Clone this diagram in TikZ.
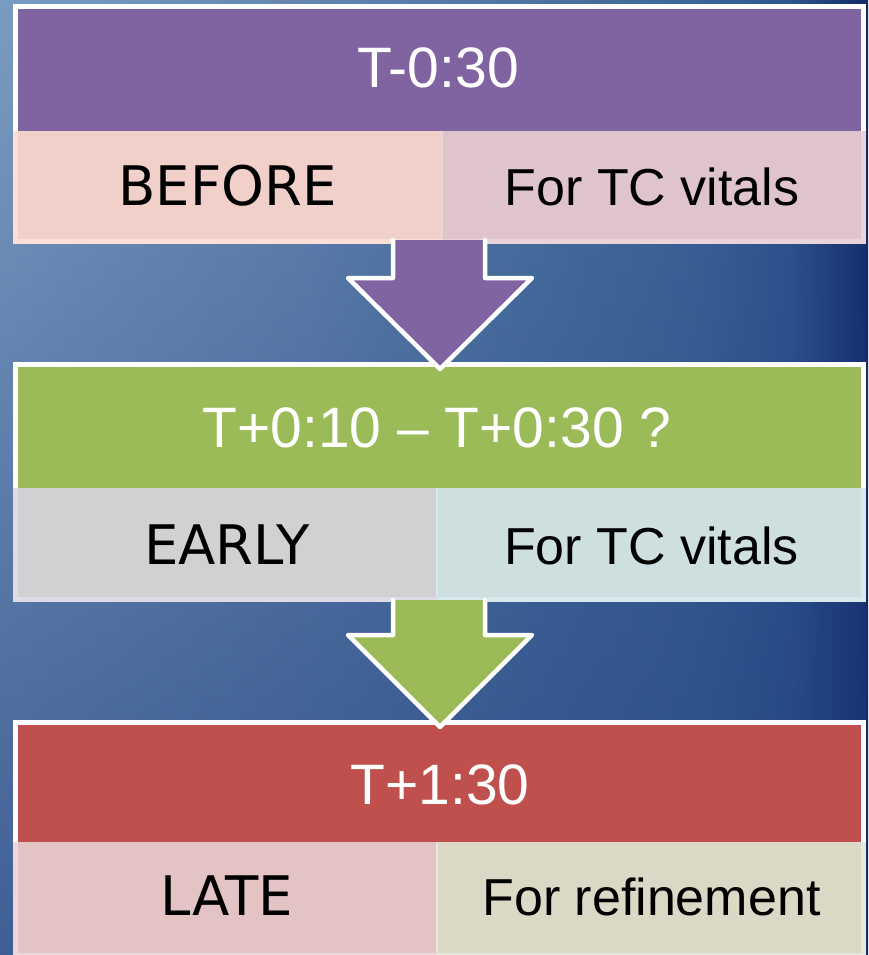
\documentclass[tikz,border=0pt]{standalone}
\usepackage{fontspec}
\setmainfont{Liberation Sans}
\newfontfamily\djv{DejaVu Sans}
\usetikzlibrary{fadings}
\definecolor{bgA}{HTML}{7B9CC1}
\definecolor{bgB}{HTML}{6686B1}
\definecolor{bgC}{HTML}{4F75A4}
\definecolor{bgD}{HTML}{3D6598}
\definecolor{bgE}{HTML}{2F5590}
\definecolor{bgF}{HTML}{142A6A}
\definecolor{bgdark}{HTML}{1F3F7C}
\definecolor{purp}{HTML}{8064A2}
\definecolor{pL}{HTML}{F0D0C9}
\definecolor{pLb}{HTML}{FCE0D7}
\definecolor{pR}{HTML}{DFC5CB}
\definecolor{pRb}{HTML}{E9D5D9}
\definecolor{grn}{HTML}{9BBB59}
\definecolor{gL}{HTML}{D3D0D3}
\definecolor{gLb}{HTML}{DCDBE6}
\definecolor{gR}{HTML}{CDE0DF}
\definecolor{gRb}{HTML}{D8E9EC}
\definecolor{rd}{HTML}{C0504D}
\definecolor{rL}{HTML}{E3C3C3}
\definecolor{rLb}{HTML}{EBD6DA}
\definecolor{rR}{HTML}{DBD9C5}
\definecolor{rRb}{HTML}{E5E9DA}
\pgfdeclarehorizontalshading{bgshade}{100bp}{color(0bp)=(bgA); color(25bp)=(bgA); color(42.3bp)=(bgB); color(53.8bp)=(bgC); color(65.3bp)=(bgD); color(70.5bp)=(bgE); color(75bp)=(bgF); color(100bp)=(bgF)}
\tikzfading[name=downdark, top color=transparent!100, middle color=transparent!85, bottom color=transparent!35]
\tikzset{
  cellshape/.style={rectangle, inner sep=0pt, outer sep=0pt, draw=none, anchor=north west},
  edge5/.style={line width=5pt},
  hdrtxt/.style={text=white, inner sep=0pt, anchor=base, font=\fontsize{57}{60}\selectfont},
  rtxt/.style={text=black, inner sep=0pt, anchor=base, font=\fontsize{52}{56}\selectfont},
  ltxt/.style={text=black, inner sep=0pt, anchor=base, font=\djv\fontsize{54.5}{58}\selectfont},
  barrow/.style={line width=4.5pt, white, line join=round, line cap=round}
}
\begin{document}
\begin{tikzpicture}[x=1pt,y=-1pt]
\useasboundingbox (0,0) rectangle (868,955);
\begin{scope}
\clip (0,0) rectangle (868,955);
% background
\shade[shading=bgshade] (0,0) rectangle (868,955);
\fill[bgdark, path fading=downdark] (0,0) rectangle (868,955);

% ---------- Box 1 ----------
\node[cellshape, fill=pL, minimum width=429pt, minimum height=117pt] (b1l) at (13,127) {};
\node[cellshape, fill=pR, minimum width=424pt, minimum height=117pt] (b1r) at (442,127) {};
\draw[pLb, edge5] (15.5,127) -- (15.5,241.5) -- (442,241.5);
\draw[pRb, edge5] (442,241.5) -- (863.5,241.5) -- (863.5,127);
\draw[pRb, line width=2pt] (442,131) -- (442,239);
\node[cellshape, fill=purp, minimum width=853pt, minimum height=127pt] (h1) at (13,4) {};
\draw[white, edge5] (15.5,131) -- (15.5,6.5) -- (863.5,6.5) -- (863.5,131);

% ---------- Box 2 ----------
\node[cellshape, fill=gL, minimum width=424pt, minimum height=118pt] (b2l) at (13,484) {};
\node[cellshape, fill=gR, minimum width=429pt, minimum height=118pt] (b2r) at (437,484) {};
\draw[gLb, edge5] (15.5,484) -- (15.5,599.5) -- (437,599.5);
\draw[gRb, edge5] (437,599.5) -- (863.5,599.5) -- (863.5,484);
\draw[gRb, line width=2pt] (437,488) -- (437,597);
\node[cellshape, fill=grn, minimum width=853pt, minimum height=126pt] (h2) at (13,362) {};
\draw[white, edge5] (15.5,488) -- (15.5,364.5) -- (863.5,364.5) -- (863.5,488);

% ---------- Box 3 ----------
\node[cellshape, fill=rL, minimum width=424pt, minimum height=120pt] (b3l) at (13,838) {};
\node[cellshape, fill=rR, minimum width=429pt, minimum height=120pt] (b3r) at (437,838) {};
\draw[rLb, edge5] (15.5,838) -- (15.5,955.5) -- (437,955.5);
\draw[rRb, edge5] (437,955.5) -- (863.5,955.5) -- (863.5,838);
\draw[rRb, line width=2pt] (437,842) -- (437,953);
\node[cellshape, fill=rd, minimum width=853pt, minimum height=122pt] (h3) at (13,720) {};
\draw[white, edge5] (15.5,842) -- (15.5,722.5) -- (863.5,722.5) -- (863.5,842);

% ---------- Arrows ----------
\fill[purp] (393,240) -- (393,278) -- (348,278) -- (440,369) -- (532,278) -- (485,278) -- (485,240) -- cycle;
\draw[barrow] (393,240) -- (393,278) -- (348,278) -- (440,369) -- (532,278) -- (485,278) -- (485,240);
\fill[grn] (393,600) -- (393,635) -- (348,635) -- (440,727) -- (532,635) -- (485,635) -- (485,600) -- cycle;
\draw[barrow] (393,600) -- (393,635) -- (348,635) -- (440,727) -- (532,635) -- (485,635) -- (485,600);

% ---------- Texts ----------
\node[hdrtxt] (t1) at (438,88) {T-0:30};
\node[ltxt] (l1) at (227.5,205) {BEFORE};
\node[rtxt] (r1) at (652,205) {For TC vitals};
\node[hdrtxt] (t2) at (437,447) {T+0:10 – T+0:30 ?};
\node[ltxt] (l2) at (227,564) {EARLY};
\node[rtxt] (r2) at (651.5,564) {For TC vitals};
\node[hdrtxt] (t3) at (440,804) {T+1:30};
\node[ltxt] (l3) at (227,915) {LATE};
\node[rtxt] (r3) at (651.5,915) {For refinement};
\end{scope}
\end{tikzpicture}
\end{document}
